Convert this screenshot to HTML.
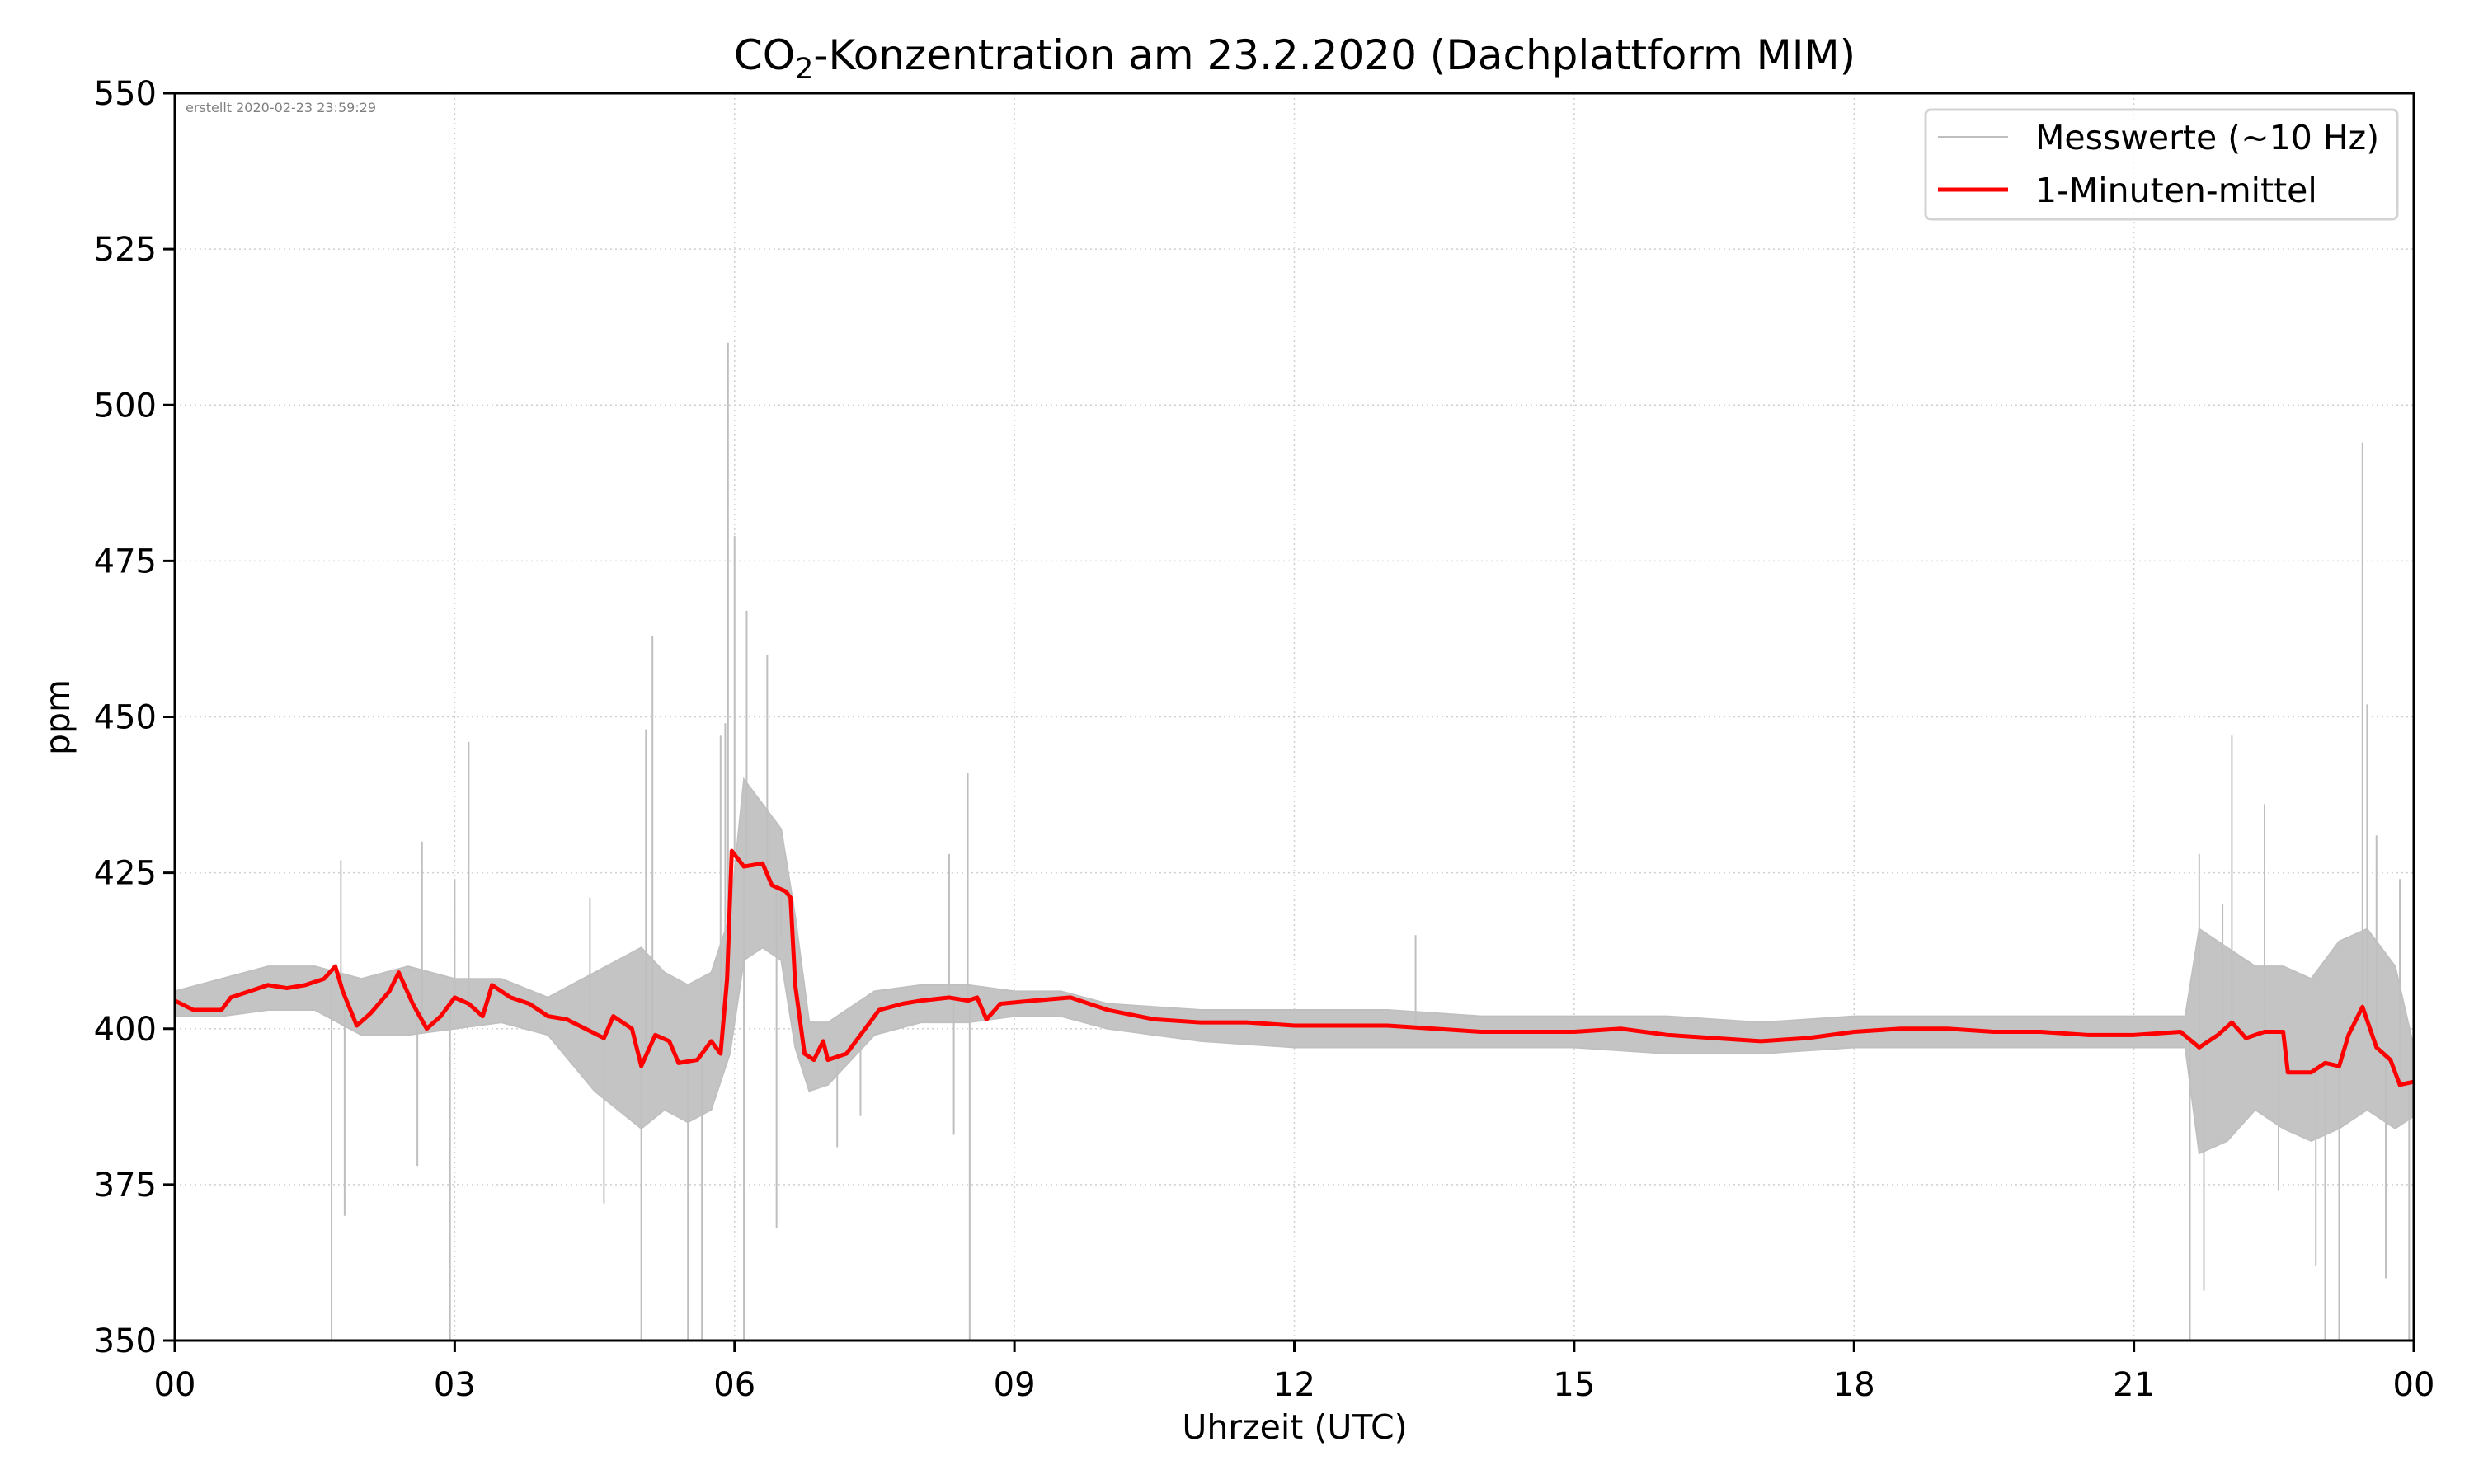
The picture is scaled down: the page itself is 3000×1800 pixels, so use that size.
<!DOCTYPE html>
<html><head><meta charset="utf-8">
<style>
html,body{margin:0;padding:0;background:#fff;}
svg{display:block;font-family:"DejaVu Sans","Liberation Sans",sans-serif;}
</style></head>
<body>
<svg id="chart" width="3000" height="1800" viewBox="0 0 3000 1800" xmlns="http://www.w3.org/2000/svg">
<rect width="3000" height="1800" fill="#fff"/>
<text x="1570" y="84" font-size="50" text-anchor="middle">CO<tspan font-size="35" dy="11">2</tspan><tspan dy="-11">-Konzentration am 23.2.2020 (Dachplattform MIM)</tspan></text>
<g id="grid"></g>
<g id="raw"></g>
<g id="mean"></g>
<g id="axes"></g>
<text x="225" y="136" font-size="16" fill="#808080">erstellt 2020-02-23 23:59:29</text>
<g>
<rect x="2335" y="133" width="572" height="133" rx="6" fill="#fff" fill-opacity="0.85" stroke="#d3d3d3" stroke-width="3"/>
<line x1="2350" y1="166" x2="2435" y2="166" stroke="#bfbfbf" stroke-width="2"/>
<text x="2468" y="181" font-size="41">Messwerte (~10 Hz)</text>
<line x1="2350" y1="230" x2="2435" y2="230" stroke="#ff0000" stroke-width="5"/>
<text x="2468" y="245" font-size="41">1-Minuten-mittel</text>
</g>
<text x="1570" y="1745" font-size="41" text-anchor="middle">Uhrzeit (UTC)</text>
<text transform="translate(84,870) rotate(-90)" font-size="41" text-anchor="middle">ppm</text>
</svg>
<script>
const xTicks = [0,3,6,9,12,15,18,21,24];
const xTickLabels = ["00","03","06","09","12","15","18","21","00"];
const yTicks = [350,375,400,425,450,475,500,525,550];
const meanHours = [0,0.2,0.5,0.6,0.8,1.0,1.2,1.4,1.6,1.72,1.8,1.95,2.1,2.3,2.4,2.55,2.7,2.85,3.0,3.15,3.3,3.4,3.6,3.8,4.0,4.2,4.4,4.6,4.7,4.9,5.0,5.15,5.3,5.4,5.6,5.75,5.85,5.92,5.97,6.1,6.3,6.4,6.55,6.6,6.65,6.75,6.85,6.95,7.0,7.2,7.4,7.55,7.8,8.0,8.3,8.5,8.6,8.7,8.85,9.2,9.6,10,10.5,11,11.5,12,12.5,13,13.5,14,14.5,15,15.5,16,16.5,17,17.5,18,18.5,19,19.5,20,20.5,21,21.5,21.7,21.9,22.05,22.2,22.4,22.6,22.65,22.9,23.05,23.2,23.3,23.45,23.6,23.75,23.85,24];
const meanValues = [404.5,403,403,405,406,407,406.5,407,408,410,406,400.5,402.5,406,409,404,400,402,405,404,402,407,405,404,402,401.5,400,398.5,402,400,394,399,398,394.5,395,398,396,408,428.5,426,426.5,423,422,421,407,396,395,398,395,396,400,403,404,404.5,405,404.5,405,401.5,404,404.5,405,403,401.5,401,401,400.5,400.5,400.5,400,399.5,399.5,399.5,400,399,398.5,398,398.5,399.5,400,400,399.5,399.5,399,399,399.5,397,399,401,398.5,399.5,399.5,393,393,394.5,394,399,403.5,397,395,391,391.5];
const rawHours = [0,0.5,1.0,1.5,2.0,2.5,3.0,3.5,4.0,4.5,4.75,5.0,5.25,5.5,5.75,5.95,6.1,6.3,6.5,6.65,6.8,7.0,7.5,8.0,8.5,9.0,9.5,10,11,12,13,14,15,16,17,18,19,20,21,21.55,21.7,22,22.3,22.6,22.9,23.2,23.5,23.8,24];
const rawLow = [402,402,403,403,399,399,400,401,399,390,387,384,387,385,387,396,411,413,411,397,390,391,399,401,401,402,402,400,398,397,397,397,397,396,396,397,397,397,397,397,380,382,387,384,382,384,387,384,386];
const rawHigh = [406,408,410,410,408,410,408,408,405,409,411,413,409,407,409,418,440,436,432,418,401,401,406,407,407,406,406,404,403,403,403,402,402,402,401,402,402,402,402,402,416,413,410,410,408,414,416,410,397];
const spikeHours = [1.68,1.78,1.82,2.6,2.65,2.95,3.0,3.15,4.45,4.6,5.0,5.05,5.12,5.5,5.65,5.85,5.9,5.93,6.0,6.1,6.13,6.35,6.45,6.5,7.1,7.35,8.3,8.35,8.5,8.52,13.3,21.6,21.7,21.75,21.95,22.05,22.4,22.55,22.95,23.05,23.2,23.45,23.5,23.6,23.7,23.85,23.95];
const spikeValues = [350,427,370,378,430,350,424,446,421,372,350,448,463,350,350,447,449,510,479,350,467,460,368,415,381,386,428,383,441,350,415,350,428,358,420,447,436,374,362,350,350,494,452,431,360,424,350];

const X0=212,X1=2927,Y0=113,Y1=1626;
const NS="http://www.w3.org/2000/svg";
function sx(h){return X0+(h/24)*(X1-X0);}
function sy(v){const c=Math.max(350,Math.min(550,v));return Y1-(c-350)/200*(Y1-Y0);}
function mk(tag,attrs,parent){const e=document.createElementNS(NS,tag);for(const k in attrs)e.setAttribute(k,attrs[k]);parent.appendChild(e);return e;}
function interp(hs,vs,h){for(let i=0;i<hs.length-1;i++){if(h>=hs[i]&&h<=hs[i+1]){const t=(h-hs[i])/(hs[i+1]-hs[i]);return vs[i]+t*(vs[i+1]-vs[i]);}}return vs[vs.length-1];}
const gridG=document.getElementById('grid'),axesG=document.getElementById('axes'),rawG=document.getElementById('raw'),meanG=document.getElementById('mean');
xTicks.forEach((t,i)=>{
 const g=mk('line',{x1:sx(t),x2:sx(t),y1:Y0,y2:Y1,stroke:'#cfcfcf','stroke-width':1.5,'stroke-dasharray':'2,4'},gridG);
 
 
 const tk=mk('line',{x1:sx(t),x2:sx(t),y1:Y1,y2:Y1+14,stroke:'#000','stroke-width':3},axesG);
 
 
 const lb=mk('text',{x:sx(t),y:1693,'font-size':40,'text-anchor':'middle'},axesG);
 lb.textContent=xTickLabels[i];
 
 
});
yTicks.forEach(t=>{
 const g=mk('line',{x1:X0,x2:X1,y1:sy(t),y2:sy(t),stroke:'#cfcfcf','stroke-width':1.5,'stroke-dasharray':'2,4'},gridG);
 
 
 const tk=mk('line',{x1:X0-14,x2:X0,y1:sy(t),y2:sy(t),stroke:'#000','stroke-width':3},axesG);
 
 
 const lb=mk('text',{x:X0-22,y:sy(t)+14,'font-size':40,'text-anchor':'end'},axesG);
 lb.textContent=String(t);
 
 
});
const upperPts=rawHours.map((h,i)=>sx(h)+','+sy(rawHigh[i]));
const lowerPts=rawHours.map((h,i)=>sx(h)+','+sy(rawLow[i])).reverse();
const band=mk('polygon',{points:upperPts.concat(lowerPts).join(' '),fill:'#c4c4c4',stroke:'#c0c0c0','stroke-width':2},rawG);


spikeHours.forEach((h,i)=>{
 const m=interp(meanHours,meanValues,h);
 const s=mk('line',{x1:sx(h),x2:sx(h),y1:sy(m),y2:sy(spikeValues[i]),stroke:'#bfbfbf','stroke-width':2},rawG);
 
 
});
const ml=mk('polyline',{points:meanHours.map((h,i)=>sx(h)+','+sy(meanValues[i])).join(' '),fill:'none',stroke:'#ff0000','stroke-width':5,'stroke-linejoin':'round'},meanG);


const fr=mk('rect',{x:X0,y:Y0,width:X1-X0,height:Y1-Y0,fill:'none',stroke:'#000','stroke-width':3},axesG);


</script>
</body></html>
